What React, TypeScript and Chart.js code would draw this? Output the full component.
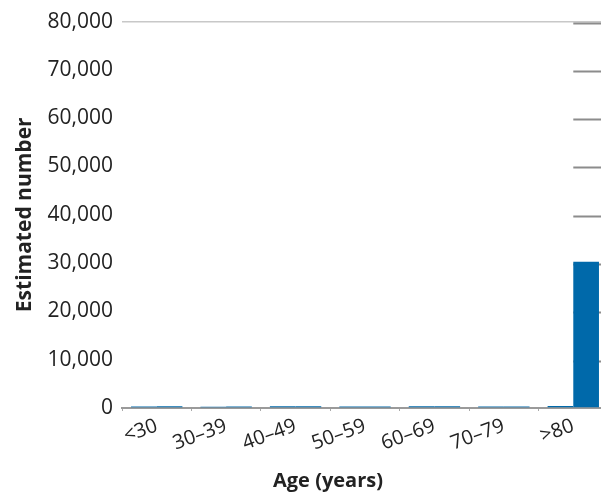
import React, { useEffect, useRef } from "react";
import { Chart, registerables } from "chart.js";

Chart.register(...registerables);

const categories = ["<30", "30–39", "40–49", "50–59", "60–69", "70–79", ">80"];
const seriesA = [330, 280, 360, 300, 350, 320, 400];
const seriesB = [350, 300, 340, 310, 370, 330, 30300];
const yTicks = [0, 10000, 20000, 30000, 40000, 50000, 60000, 70000, 80000];

const BLUE = "#0069AA";
const FONT = "'Open Sans', 'Noto Sans', sans-serif";

const rightDashes = {
  id: "rightDashes",
  beforeDatasetsDraw(chart: any) {
    const { ctx, chartArea, scales } = chart;
    const x = scales.x;
    const y = scales.y;
    const xStart = x.getPixelForValue(categories.length - 1);
    ctx.save();
    ctx.strokeStyle = "#8c8c8c";
    ctx.lineWidth = 2;
    yTicks.forEach((v) => {
      if (v <= 0) return;
      const py = Math.round(y.getPixelForValue(v)) + 1.5;
      ctx.beginPath();
      ctx.moveTo(xStart, py);
      ctx.lineTo(chartArea.right + 5, py);
      ctx.stroke();
    });
    ctx.restore();
  },
};

export default function App() {
  const ref = useRef<HTMLCanvasElement | null>(null);
  useEffect(() => {
    if (!ref.current) return;
    const chart = new Chart(ref.current, {
      type: "bar",
      data: {
        labels: categories,
        datasets: [
          { data: seriesA, backgroundColor: BLUE, borderWidth: 0, yAxisID: "y" },
          { data: seriesB, backgroundColor: BLUE, borderWidth: 0, yAxisID: "y" },
        ],
      },
      options: {
        responsive: false,
        animation: false,
        maintainAspectRatio: false,
        layout: { padding: 0 },
        plugins: {
          legend: { display: false },
          tooltip: { enabled: false },
          title: {
            display: true,
            position: "bottom",
            text: "Age (years)",
            color: "#222",
            font: { family: FONT, size: 20, weight: "bold", lineHeight: 1.2 },
            padding: { top: 0, bottom: 0 },
          },
        },
        datasets: { bar: { categoryPercentage: 0.74, barPercentage: 1.0 } },
        scales: {
          x: {
            afterFit: (s: any) => {
              s.height = 61;
            },
            grid: {
              drawOnChartArea: false,
              drawTicks: true,
              tickLength: 3,
              color: "#aaaaaa",
            },
            border: { display: true, color: "#9a9a9a", width: 2 },
            ticks: {
              color: "#222",
              font: { family: FONT, size: 20 },
              maxRotation: 20,
              minRotation: 20,
              padding: 3,
            },
          },
          y: {
            min: 0,
            max: 80000,
            afterFit: (s: any) => {
              s.width = 122;
            },
            afterBuildTicks: (s: any) => {
              s.ticks = yTicks.map((v) => ({ value: v }));
            },
            grid: {
              drawTicks: false,
              lineWidth: 1.5,
              color: (c: any) =>
                c.tick && c.tick.value === yTicks[yTicks.length - 1] ? "#c8c8c8" : "rgba(0,0,0,0)",
            },
            border: { display: false },
            ticks: {
              color: "#222",
              font: { family: FONT, size: 21 },
              padding: 9,
              callback: (v: any) => Number(v).toLocaleString("en-US"),
            },
            title: {
              display: true,
              text: "Estimated number",
              color: "#222",
              font: { family: FONT, size: 21, weight: "bold" },
              padding: { top: 12, bottom: 0 },
            },
          },
          yRight: {
            type: "linear",
            position: "right",
            display: true,
            min: 0,
            max: 80000,
            afterFit: (s: any) => {
              s.width = 48;
            },
            grid: { display: false, drawOnChartArea: false, drawTicks: false },
            border: { display: false },
            ticks: { display: false },
          },
        },
      },
      plugins: [rightDashes],
    });
    return () => chart.destroy();
  }, []);
  return (
    <div
      style={{
        position: "absolute",
        left: 0,
        top: 0,
        width: 601,
        height: 493,
        overflow: "hidden",
        background: "#fff",
      }}
    >
      <canvas ref={ref} width={656} height={493} style={{ display: "block" }} />
    </div>
  );
}
